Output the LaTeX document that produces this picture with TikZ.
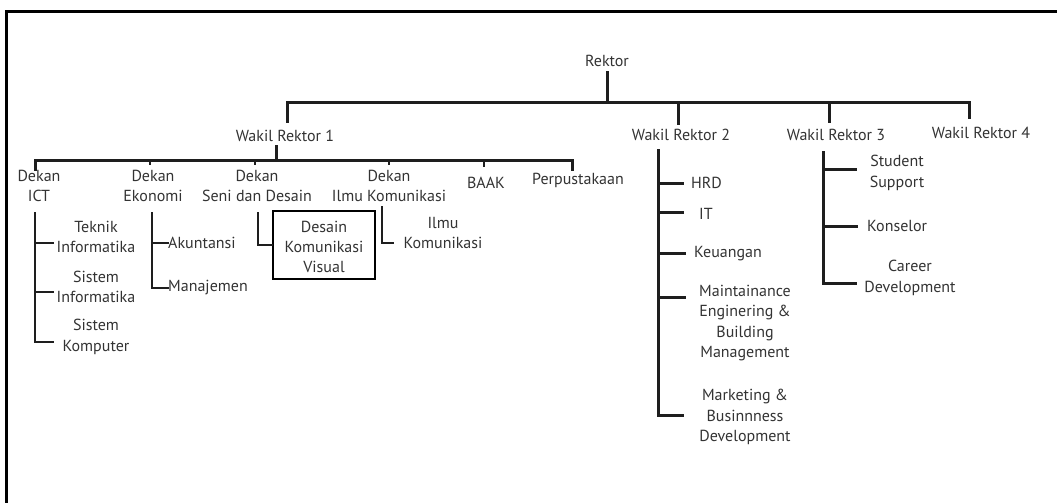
\documentclass[tikz,border=0pt]{standalone}
\usepackage{fontspec}
\setmainfont{PT Sans}
\definecolor{txtgray}{HTML}{333333}
\definecolor{linegray}{HTML}{1E1E1E}
\begin{document}
\begin{tikzpicture}[x=1pt,y=-1pt,
  lbl/.style={inner sep=0pt, align=center, font=\fontsize{16}{20.3}\selectfont, text=txtgray},
  conn/.style={line width=3pt, draw=linegray, line cap=rect, line join=miter},
  subconn/.style={line width=2.6pt, draw=linegray, line cap=rect, line join=miter},
  hibox/.style={draw=black, line width=2.6pt, minimum width=102pt, minimum height=68pt}]
\useasboundingbox (0,0) rectangle (1057,503);
\draw[line width=3.5pt, black] (6.5,503) -- (6.5,11.5) -- (1057,11.5);

% nodes
\node[lbl] (rektor) at (607,61) {Rektor};
\node[lbl] (wr1) at (285,136) {Wakil Rektor 1};
\node[lbl] (wr2) at (681,135) {Wakil Rektor 2};
\node[lbl] (wr3) at (836,135) {Wakil Rektor 3};
\node[lbl] (wr4) at (981,133) {Wakil Rektor 4};

\node[lbl] (dict) at (39,186) {Dekan\\ICT};
\node[lbl] (deko) at (153,186) {Dekan\\Ekonomi};
\node[lbl] (dsen) at (257,186) {Dekan\\Seni dan Desain};
\node[lbl] (dilm) at (389,186) {Dekan\\Ilmu Komunikasi};
\node[lbl] (baak) at (486,183) {BAAK};
\node[lbl] (perp) at (578,180) {Perpustakaan};

\node[lbl] (ti) at (96,237) {Teknik\\Informatika};
\node[lbl] (si) at (96,287) {Sistem\\Informatika};
\node[lbl] (sk) at (96,337) {Sistem\\Komputer};
\node[lbl, anchor=west] (ak) at (168,243) {Akuntansi};
\node[lbl, anchor=west] (mj) at (168,288) {Manajemen};
\node[hibox] (dkvbox) at (324,245) {};
\node[lbl] (dkv) at (324,247) {Desain\\Komunikasi\\Visual};
\node[lbl] (ik) at (443,233) {Ilmu\\Komunikasi};

\node[lbl, anchor=west] (hrd) at (691,183) {HRD};
\node[lbl, anchor=west] (it) at (699,214) {IT};
\node[lbl, anchor=west] (keu) at (694,254) {Keuangan};
\node[lbl] (meb) at (745,323) {Maintainance\\Enginering \&\\Building\\Management};
\node[lbl] (mbd) at (745,417) {Marketing \&\\Businnness\\Development};

\node[lbl] (ss) at (897,173) {Student\\Support};
\node[lbl, anchor=west] (kon) at (867,226) {Konselor};
\node[lbl] (cd) at (910,278) {Career\\Development};

% top level bus
\coordinate (bus0) at (607,102);
\draw[conn] (607,73) -- (bus0);
\draw[conn] (287,121) -- (287,102) -- (969,102) -- (969,117);
\draw[conn] (678,102) -- (678,123);
\draw[conn] (829,102) -- (829,121);

% WR1 bus
\coordinate (bus1) at (276,160);
\draw[conn] (276,146) -- (bus1);
\draw[conn] (35,169) -- (35,160) -- (572,160) -- (572,169);
\draw[subconn] (150,160) -- (150,164);
\draw[subconn] (255,160) -- (255,164);
\draw[subconn] (389,160) -- (389,164);
\draw[subconn] (484,160) -- (484,166);

% ICT
\draw[subconn] (35,213) -- (35,342) -- (53,342);
\draw[subconn] (35,243) -- (53,243);
\draw[subconn] (35,292) -- (53,292);
% Ekonomi
\draw[subconn] (152,213) -- (152,288) -- (ak.west |- mj.west);
\draw[subconn] (152,243) -- (ak.west);
% Seni
\draw[subconn] (258,213) -- (258,245) -- (dkvbox.west);
% Ilmu
\draw[subconn] (382,207) -- (382,243) -- (393,243);

% WR2
\draw[conn] (658,150) -- (658,415) -- (682,415);
\draw[conn] (658,183) -- (682,183);
\draw[conn] (658,212) -- (682,212);
\draw[conn] (658,253) -- (684,253);
\draw[conn] (658,297) -- (684,297);

% WR3
\draw[conn] (823,152) -- (823,283) -- (855,283);
\draw[conn] (823,169) -- (855,169);
\draw[conn] (823,226) -- (856,226);
\end{tikzpicture}
\end{document}
